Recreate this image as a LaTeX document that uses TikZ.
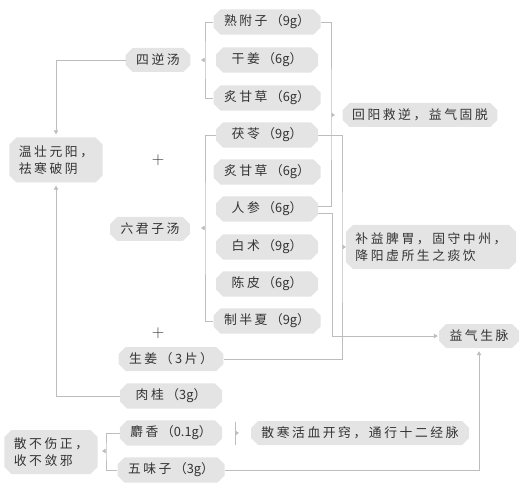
\documentclass[tikz,border=0pt]{standalone}
\usepackage{fontspec}
\setmainfont{Noto Sans CJK SC}[LetterSpace=20]
\newfontfamily\numfont{Noto Sans CJK SC}
\newcommand{\gw}[1]{{\numfont #1}}
\usetikzlibrary{arrows.meta,shapes.misc}
\definecolor{boxgray}{HTML}{E4E4E4}
\definecolor{linegray}{HTML}{BDBDBD}
\definecolor{txtgray}{HTML}{333333}
\tikzset{
  bx/.style={chamfered rectangle,chamfered rectangle xsep=3.5pt,chamfered rectangle ysep=3.5pt,fill=boxgray,draw=none,text=txtgray,inner xsep=7pt,inner ysep=2pt,minimum height=24pt,font=\fontsize{12.8}{17}\selectfont},
  hnode/.style={bx,minimum width=102pt},
  fnode/.style={bx},
  enode/.style={bx,align=left,inner xsep=6pt},
  pnode/.style={text=txtgray,font=\fontsize{17}{17}\selectfont},
  ln/.style={draw=linegray,line width=0.8pt},
  la/.style={ln,-{Triangle[length=4pt,width=4.5pt]},shorten >=3pt},
  mk/.style={draw=linegray,fill=linegray,line width=0.6pt,-{Triangle[length=3.5pt,width=4.5pt]}}
}
\begin{document}
\begin{tikzpicture}[x=1pt,y=-1pt]
\useasboundingbox (0,0) rectangle (529,502);
\node[fnode] (sini) at (158,60) {四逆汤};
\node[fnode] (liujun) at (150,229) {六君子汤};
\node[enode,minimum width=86pt,minimum height=45pt] (wenyang) at (56,160) {温壮元阳，\\祛寒破阴};
\node[pnode] (plus1) at (158,160) {$+$};
\node[pnode] (plus2) at (158,333) {$+$};
\node[hnode] (fuzi) at (267,22) {熟附子（\gw{9g}）};
\node[hnode] (ganjiang) at (267,60) {干姜（\gw{6g}）};
\node[hnode] (gancaoa) at (267,98) {炙甘草（\gw{6g}）};
\node[hnode] (fuling) at (267,135) {茯苓（\gw{9g}）};
\node[hnode] (gancaob) at (267,172) {炙甘草（\gw{6g}）};
\node[hnode] (renshen) at (267,209) {人参（\gw{6g}）};
\node[hnode] (baizhu) at (267,247) {白术（\gw{9g}）};
\node[hnode] (chenpi) at (267,284) {陈皮（\gw{6g}）};
\node[hnode] (banxia) at (267,321) {制半夏（\gw{9g}）};
\node[hnode] (shengjiang) at (171,359) {生姜（3片）};
\node[hnode] (rougui) at (171,396) {肉桂（\gw{3g}）};
\node[hnode] (shexiang) at (171,433) {麝香（\gw{0.1g}）};
\node[hnode] (wuweizi) at (171,470) {五味子（\gw{3g}）};
\node[enode,minimum width=86pt,minimum height=44pt] (sanbu) at (51,452) {散不伤正，\\收不敛邪};
\node[enode,minimum width=152pt] (huiyang) at (420,115) {回阳救逆，益气固脱};
\node[enode,minimum width=156pt,minimum height=44pt] (bupi) at (431,247) {补益脾胃，固守中州，\\降阳虚所生之痰饮};
\node[enode,minimum width=80pt] (yiqi) at (479,336) {益气生脉};
\node[enode,minimum width=218pt] (sanhan) at (360,433) {散寒活血开窍，通行十二经脉};
\coordinate (b1) at (205,60);
\coordinate (b2) at (205,228);
\coordinate (b3) at (331,115);
\coordinate (b4) at (342,247);
\coordinate (b5) at (106,451);
\coordinate (b6) at (235,433);
\draw[ln] (fuzi.west) -| (b1) |- (gancaoa.west);
\draw[mk] ([xshift=-1pt]b1) -- ++(-3,0);
\draw[ln] (fuling.west) -| (b2) |- (banxia.west);
\draw[mk] ([xshift=-1pt]b2) -- ++(-3,0);
\draw[la] (sini.west) -| (wenyang.north);
\draw[la] (rougui.west) -| (wenyang.south);
\draw[ln] (fuzi.east) -| (b3) |- ([yshift=3pt]renshen.east);
\draw[mk] ([xshift=1pt]b3) -- ++(3,0);
\draw[ln] (fuling.east) -| (b4) |- (shengjiang.east);
\draw[mk] ([xshift=1pt]b4) -- ++(3,0);
\draw[la,shorten >=1pt] ([yshift=-4pt]renshen.east) -- ++(14,0) |- (yiqi.west);
\draw[la] (wuweizi.east) -| (yiqi.south);
\draw[ln] (shexiang.west) -| (b5) |- (wuweizi.west);
\draw[mk] ([xshift=-1pt]b5) -- ++(-3,0);
\draw[ln] ([yshift=11.5pt]b6) -- ([yshift=-11.5pt]b6);
\draw[mk] ([xshift=1pt]b6) -- ++(3,0);
\end{tikzpicture}
\end{document}
